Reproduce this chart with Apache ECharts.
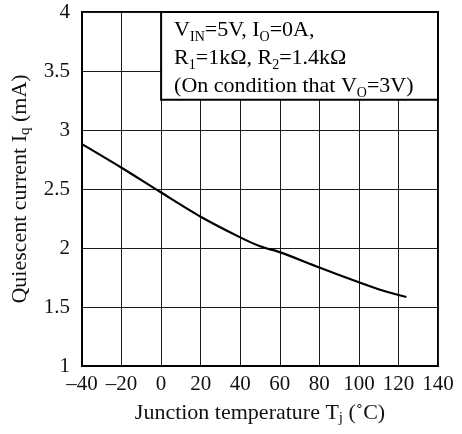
<!DOCTYPE html>
<html>
<head>
<meta charset="utf-8">
<script src="https://cdn.jsdelivr.net/npm/echarts@6/dist/echarts.min.js"></script>
<style>html,body{margin:0;padding:0;background:#fff;}#c{width:462px;height:434px;}</style>
</head>
<body>
<div id="c"></div>
<script>
var temperatures = [-40, -20, 0, 20, 40, 50, 60, 80, 100, 112, 124];
var currents = [2.88, 2.68, 2.47, 2.265, 2.09, 2.015, 1.965, 1.835, 1.71, 1.64, 1.585];
var xTickValues = [-40, -20, 0, 20, 40, 60, 80, 100, 120, 140];
var xTickLabels = ['\u201340', '\u201320', '0', '20', '40', '60', '80', '100', '120', '140'];
var yTickValues = [1, 1.5, 2, 2.5, 3, 3.5, 4];
var yTickLabels = ['1', '1.5', '2', '2.5', '3', '3.5', '4'];

var FONT = '"Liberation Serif", "Times New Roman", serif';
var chart = echarts.init(document.getElementById('c'));
var subStyle = { fontFamily: FONT, fontSize: 14, color: '#111', lineHeight: 17, verticalAlign: 'bottom' };
var mainStyle = { fontFamily: FONT, fontSize: 22, color: '#111', lineHeight: 28 };
var nameRich = {
  m: { fontFamily: FONT, fontSize: 22, color: '#111', lineHeight: 26 },
  s: { fontFamily: FONT, fontSize: 15, color: '#111', lineHeight: 18, verticalAlign: 'bottom' }
};

var option = {
  animation: false,
  backgroundColor: '#fff',
  grid: { left: 82, right: 24, top: 12, bottom: 68, show: true, borderColor: '#000', borderWidth: 2, backgroundColor: 'transparent' },
  xAxis: {
    type: 'value', min: -40, max: 140, interval: 20,
    axisLine: { show: true, onZero: false, lineStyle: { color: '#000', width: 2 } },
    axisTick: { show: false },
    splitLine: { show: true, lineStyle: { color: '#1a1a1a', width: 1 } },
    axisLabel: {
      fontFamily: FONT, fontSize: 21, color: '#111', margin: 8,
      formatter: function (v) { var i = xTickValues.indexOf(v); return i >= 0 ? xTickLabels[i] : ''; }
    },
    name: '{m|Junction temperature T}{s|j}{m| (\u02daC)}',
    nameLocation: 'middle', nameGap: 34,
    nameTextStyle: { rich: nameRich }
  },
  yAxis: {
    type: 'value', min: 1, max: 4, interval: 0.5,
    axisLine: { show: true, onZero: false, lineStyle: { color: '#000', width: 2 } },
    axisTick: { show: false },
    splitLine: { show: true, lineStyle: { color: '#1a1a1a', width: 1 } },
    axisLabel: {
      fontFamily: FONT, fontSize: 21, color: '#111', margin: 12,
      formatter: function (v) { var i = yTickValues.indexOf(Math.round(v * 10) / 10); return i >= 0 ? yTickLabels[i] : ''; }
    },
    name: '{m|Quiescent current I}{s|q}{m| (mA)}',
    nameLocation: 'middle', nameGap: 43, nameRotate: 90,
    nameTextStyle: { rich: nameRich }
  },
  series: [{
    type: 'line',
    data: temperatures.map(function (t, i) { return [t, currents[i]]; }),
    smooth: 0.3,
    symbol: 'none',
    lineStyle: { color: '#000', width: 2.2 },
    z: 3
  }]
};
chart.setOption(option);

var p0 = chart.convertToPixel({ gridIndex: 0 }, [0, 4]);
var p1 = chart.convertToPixel({ gridIndex: 0 }, [140, 3.257]);
chart.setOption({
  graphic: [
    {
      type: 'rect', z: 100,
      shape: { x: p0[0], y: p0[1], width: p1[0] - p0[0], height: p1[1] - p0[1] },
      style: { fill: '#fff', stroke: '#000', lineWidth: 2 }
    },
    {
      type: 'text', z: 101, left: p0[0] + 13, top: p0[1] + 7,
      style: {
        text: '{m|V}{s|IN}{m|=5V, I}{s|O}{m|=0A,}\n{m|R}{s|1}{m|=1k\u03a9, R}{s|2}{m|=1.4k\u03a9}\n{m|(On condition that V}{s|O}{m|=3V)}',
        rich: { m: mainStyle, s: subStyle }
      }
    }
  ]
});
</script>
</body>
</html>
